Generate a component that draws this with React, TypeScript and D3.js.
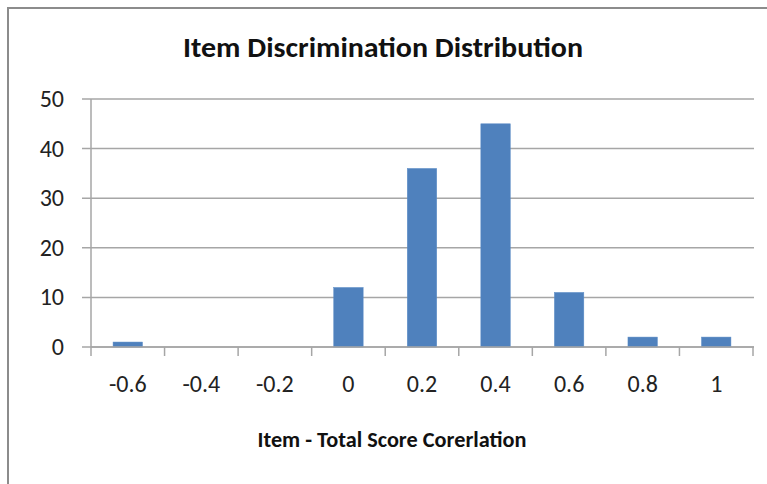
import React, { useEffect, useRef } from "react";
import * as d3 from "d3";

const categories = ["-0.6", "-0.4", "-0.2", "0", "0.2", "0.4", "0.6", "0.8", "1"];
const counts = [1, 0, 0, 12, 36, 45, 11, 2, 2];
const yTicks = [0, 10, 20, 30, 40, 50];

const chartTitle = "Item Discrimination Distribution";
const xTitle = "Item - Total Score Corerlation";

const W = 767;
const H = 484;
const font = "Calibri, Carlito, 'Open Sans', sans-serif";

export default function App() {
  const ref = useRef<SVGSVGElement>(null);

  useEffect(() => {
    const svg = d3.select(ref.current);
    svg.selectAll("*").remove();

    const left = 91, right = 753, top = 99, bottom = 347;

    const x = d3.scaleBand().domain(categories).range([left, right]).paddingInner(0.6).paddingOuter(0.3);
    const band = d3.scaleBand().domain(categories).range([left, right]);
    const y = d3.scaleLinear().domain([0, 50]).range([bottom, top]);

    svg.append("rect").attr("width", W).attr("height", H).attr("fill", "#fff");

    // chart frame (only left and top edges are inside the picture)
    svg.append("path")
      .attr("d", "M8,490V8H780")
      .attr("fill", "none").attr("stroke", "#8c8c8c").attr("stroke-width", 2);

    // gridlines + y ticks
    svg.append("g").selectAll("line").data(yTicks).enter().append("line")
      .attr("x1", left - 9).attr("x2", right + 1)
      .attr("y1", d => y(d)).attr("y2", d => y(d))
      .attr("stroke", "#a6a6a6").attr("stroke-width", 1.5);

    svg.append("g").selectAll("text").data(yTicks).enter().append("text")
      .attr("x", 64).attr("y", d => y(d) + 8)
      .attr("text-anchor", "end")
      .attr("font-family", font).attr("font-size", 24).attr("fill", "#222")
      .text(d => d);

    // y axis line
    svg.append("line")
      .attr("x1", left).attr("x2", left).attr("y1", top).attr("y2", bottom)
      .attr("stroke", "#a6a6a6").attr("stroke-width", 1.5);

    // bars
    svg.append("g").selectAll("rect").data(counts).enter().append("rect")
      .attr("x", (d, i) => x(categories[i])!)
      .attr("width", x.bandwidth())
      .attr("y", d => y(d))
      .attr("height", d => bottom - y(d))
      .attr("fill", "#4f81bd")
      .attr("stroke", "#5b8cc6").attr("stroke-width", 0.5);

    // x axis ticks
    const tickXs = categories.map(c => band(c)!).concat([right]);
    svg.append("g").selectAll("line").data(tickXs).enter().append("line")
      .attr("x1", d => d).attr("x2", d => d)
      .attr("y1", bottom).attr("y2", bottom + 9)
      .attr("stroke", "#a6a6a6").attr("stroke-width", 1.5);

    svg.append("line")
      .attr("x1", left).attr("x2", right + 1).attr("y1", bottom).attr("y2", bottom)
      .attr("stroke", "#a6a6a6").attr("stroke-width", 1.5);

    svg.append("g").selectAll("text").data(categories).enter().append("text")
      .attr("x", d => band(d)! + band.bandwidth() / 2)
      .attr("y", 392)
      .attr("text-anchor", "middle")
      .attr("font-family", font).attr("font-size", 24).attr("fill", "#222")
      .text(d => d);

    svg.append("text")
      .attr("x", 383).attr("y", 57)
      .attr("text-anchor", "middle")
      .attr("font-family", font).attr("font-size", 28).attr("font-weight", "bold").attr("fill", "#111")
      .attr("textLength", 400).attr("lengthAdjust", "spacingAndGlyphs")
      .text(chartTitle);

    svg.append("text")
      .attr("x", 392).attr("y", 447)
      .attr("text-anchor", "middle")
      .attr("font-family", font).attr("font-size", 23).attr("font-weight", "bold").attr("fill", "#111")
      .attr("textLength", 269).attr("lengthAdjust", "spacingAndGlyphs")
      .text(xTitle);
  }, []);

  return (
    <svg ref={ref} width={W} height={H} style={{ position: "absolute", left: 0, top: 0 }} />
  );
}
